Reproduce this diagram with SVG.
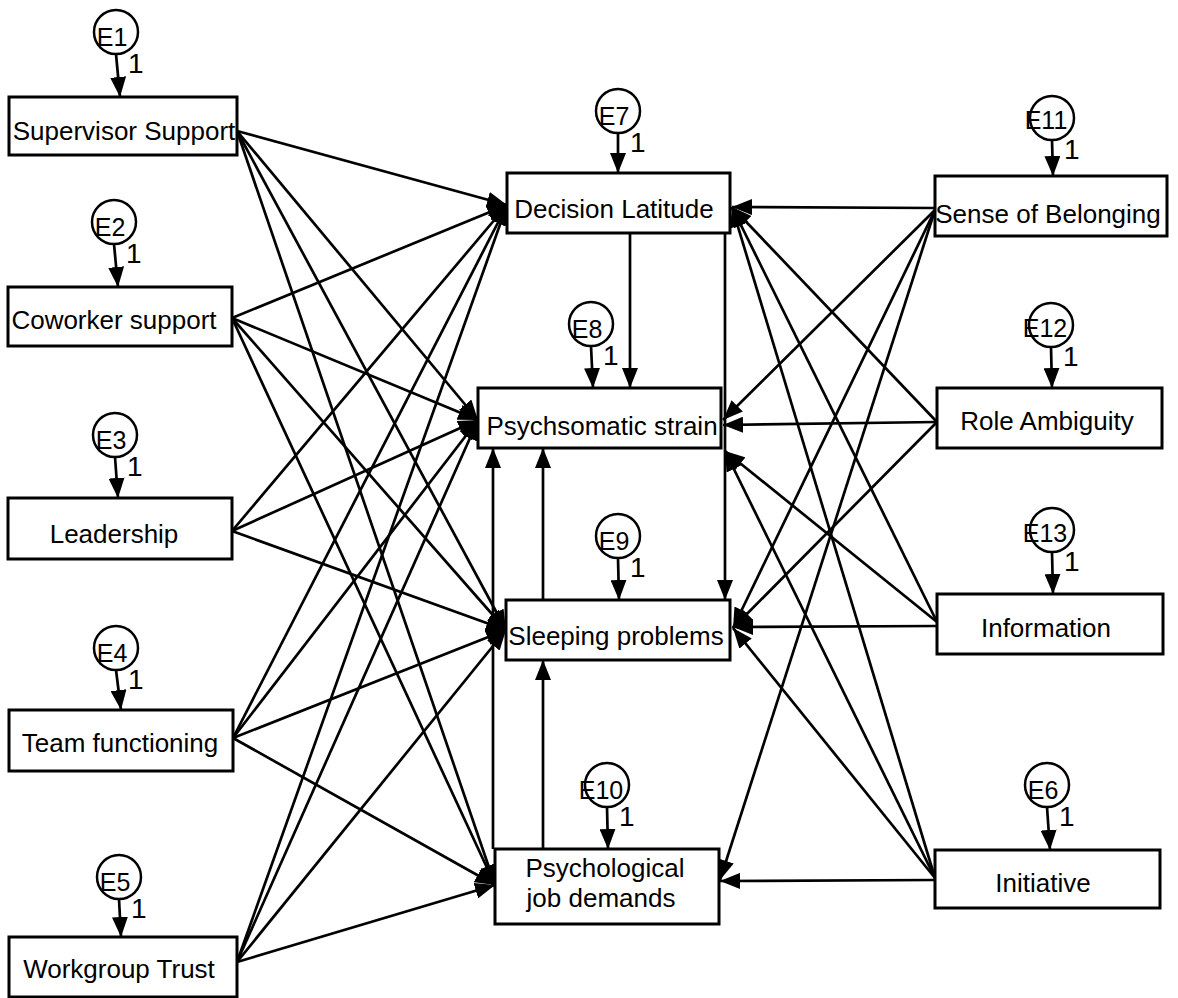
<svg xmlns="http://www.w3.org/2000/svg" width="1178" height="998" viewBox="0 0 1178 998">
  <style>
    .box { fill: #fff; stroke: #000; stroke-width: 3; }
    .err { fill: #fff; stroke: #000; stroke-width: 2.5; }
    .lbl { font-family: "Liberation Sans", Arial, sans-serif; font-size: 26px; fill: #000; text-anchor: middle; }
    .elbl { font-family: "Liberation Sans", Arial, sans-serif; font-size: 25px; fill: #000; text-anchor: middle; }
    .one { font-family: "Liberation Sans", Arial, sans-serif; font-size: 28px; fill: #000; }
    .edge { stroke: #000; stroke-width: 2.7; fill: none; marker-end: url(#ah); }
  </style>
  <defs>
    <marker id="ah" markerUnits="userSpaceOnUse" markerWidth="20" markerHeight="16" refX="20" refY="8" orient="auto" viewBox="0 0 20 16">
      <path d="M0,0 L20,8 L0,16 z" fill="#000"/>
    </marker>
  </defs>
  <rect width="1178" height="998" fill="#fff"/>

  <!-- paths between variables -->
  <g id="connectors">
    <!-- exogenous (left) to endogenous -->
    <line class="edge" x1="237" y1="131" x2="507" y2="205"/>
    <line class="edge" x1="237" y1="131" x2="478" y2="420"/>
    <line class="edge" x1="237" y1="131" x2="506" y2="630"/>
    <line class="edge" x1="237" y1="131" x2="495" y2="885"/>
    <line class="edge" x1="232" y1="318" x2="507" y2="205"/>
    <line class="edge" x1="232" y1="318" x2="478" y2="420"/>
    <line class="edge" x1="232" y1="318" x2="506" y2="630"/>
    <line class="edge" x1="232" y1="318" x2="495" y2="885"/>
    <line class="edge" x1="232" y1="531" x2="507" y2="205"/>
    <line class="edge" x1="232" y1="531" x2="478" y2="420"/>
    <line class="edge" x1="232" y1="531" x2="506" y2="630"/>
    <line class="edge" x1="233" y1="738" x2="507" y2="205"/>
    <line class="edge" x1="233" y1="738" x2="478" y2="420"/>
    <line class="edge" x1="233" y1="738" x2="506" y2="630"/>
    <line class="edge" x1="233" y1="738" x2="495" y2="885"/>
    <line class="edge" x1="237" y1="962" x2="507" y2="205"/>
    <line class="edge" x1="237" y1="962" x2="478" y2="420"/>
    <line class="edge" x1="237" y1="962" x2="506" y2="630"/>
    <line class="edge" x1="237" y1="962" x2="495" y2="885"/>
    <!-- exogenous (right) to endogenous -->
    <line class="edge" x1="935" y1="208" x2="732" y2="207"/>
    <line class="edge" x1="935" y1="210" x2="723" y2="420"/>
    <line class="edge" x1="935" y1="210" x2="733" y2="628"/>
    <line class="edge" x1="935" y1="210" x2="720" y2="880"/>
    <line class="edge" x1="937" y1="422" x2="732" y2="207"/>
    <line class="edge" x1="937" y1="422" x2="723" y2="425"/>
    <line class="edge" x1="937" y1="422" x2="733" y2="628"/>
    <line class="edge" x1="937" y1="622" x2="732" y2="207"/>
    <line class="edge" x1="937" y1="622" x2="725" y2="451"/>
    <line class="edge" x1="937" y1="626" x2="733" y2="627"/>
    <line class="edge" x1="935" y1="878" x2="732" y2="207"/>
    <line class="edge" x1="935" y1="878" x2="725" y2="451"/>
    <line class="edge" x1="935" y1="878" x2="733" y2="628"/>
    <line class="edge" x1="935" y1="880" x2="720" y2="881"/>
    <!-- among endogenous variables -->
    <line class="edge" x1="630" y1="233" x2="630" y2="388"/>
    <line class="edge" x1="725" y1="233" x2="725" y2="600"/>
    <line class="edge" x1="543" y1="600" x2="543" y2="448"/>
    <line class="edge" x1="493" y1="849" x2="493" y2="448"/>
    <line class="edge" x1="543" y1="849" x2="543" y2="660"/>
    <!-- error terms -->
    <line class="edge" x1="116" y1="54" x2="120" y2="97"/>
    <line class="edge" x1="114" y1="244" x2="118" y2="287"/>
    <line class="edge" x1="115" y1="457" x2="118" y2="498"/>
    <line class="edge" x1="116" y1="670" x2="121" y2="710"/>
    <line class="edge" x1="119" y1="899" x2="121" y2="937"/>
    <line class="edge" x1="618" y1="133" x2="618" y2="173"/>
    <line class="edge" x1="591" y1="346" x2="593" y2="388"/>
    <line class="edge" x1="618" y1="558" x2="619" y2="600"/>
    <line class="edge" x1="607" y1="807" x2="608" y2="849"/>
    <line class="edge" x1="1052" y1="140" x2="1053" y2="176"/>
    <line class="edge" x1="1051" y1="347" x2="1052" y2="388"/>
    <line class="edge" x1="1052" y1="552" x2="1053" y2="594"/>
    <line class="edge" x1="1047" y1="807" x2="1050" y2="850"/>
  </g>

  <!-- observed variables -->
  <g id="supervisor-support"><rect class="box" x="9" y="97" width="228" height="58"/><text class="lbl" x="124" y="140">Supervisor Support</text></g>
  <g id="coworker-support"><rect class="box" x="8" y="287" width="224" height="59"/><text class="lbl" x="114" y="329">Coworker support</text></g>
  <g id="leadership"><rect class="box" x="8" y="498" width="224" height="61"/><text class="lbl" x="114" y="543">Leadership</text></g>
  <g id="team-functioning"><rect class="box" x="9" y="710" width="224" height="61"/><text class="lbl" x="120" y="752">Team functioning</text></g>
  <g id="workgroup-trust"><rect class="box" x="9" y="937" width="228" height="60"/><text class="lbl" x="119" y="978">Workgroup Trust</text></g>

  <g id="decision-latitude"><rect class="box" x="507" y="173" width="223" height="60"/><text class="lbl" x="614" y="218">Decision Latitude</text></g>
  <g id="psychsomatic-strain"><rect class="box" x="478" y="388" width="243" height="60"/><text class="lbl" x="602" y="435">Psychsomatic strain</text></g>
  <g id="sleeping-problems"><rect class="box" x="506" y="600" width="224" height="60"/><text class="lbl" x="616" y="645">Sleeping problems</text></g>
  <g id="psychological-job-demands"><rect class="box" x="495" y="849" width="224" height="75"/><text class="lbl" x="605" y="877">Psychological</text><text class="lbl" x="601" y="907">job demands</text></g>

  <g id="sense-of-belonging"><rect class="box" x="935" y="176" width="232" height="60"/><text class="lbl" x="1048" y="223">Sense of Belonging</text></g>
  <g id="role-ambiguity"><rect class="box" x="937" y="388" width="225" height="60"/><text class="lbl" x="1047" y="430">Role Ambiguity</text></g>
  <g id="information"><rect class="box" x="937" y="594" width="226" height="60"/><text class="lbl" x="1046" y="637">Information</text></g>
  <g id="initiative"><rect class="box" x="935" y="850" width="225" height="58"/><text class="lbl" x="1043" y="892">Initiative</text></g>

  <!-- error terms -->
  <g id="e1"><circle class="err" cx="116" cy="32" r="22"/><text class="elbl" x="112" y="46">E1</text><text class="one" x="128" y="73">1</text></g>
  <g id="e2"><circle class="err" cx="114" cy="222" r="22"/><text class="elbl" x="110" y="236">E2</text><text class="one" x="126" y="263">1</text></g>
  <g id="e3"><circle class="err" cx="115" cy="435" r="22"/><text class="elbl" x="111" y="449">E3</text><text class="one" x="127" y="476">1</text></g>
  <g id="e4"><circle class="err" cx="116" cy="648" r="22"/><text class="elbl" x="112" y="662">E4</text><text class="one" x="128" y="689">1</text></g>
  <g id="e5"><circle class="err" cx="119" cy="877" r="22"/><text class="elbl" x="115" y="891">E5</text><text class="one" x="131" y="918">1</text></g>
  <g id="e7"><circle class="err" cx="618" cy="111" r="22"/><text class="elbl" x="614" y="125">E7</text><text class="one" x="630" y="152">1</text></g>
  <g id="e8"><circle class="err" cx="591" cy="324" r="22"/><text class="elbl" x="587" y="338">E8</text><text class="one" x="603" y="365">1</text></g>
  <g id="e9"><circle class="err" cx="618" cy="536" r="22"/><text class="elbl" x="614" y="550">E9</text><text class="one" x="630" y="577">1</text></g>
  <g id="e10"><circle class="err" cx="607" cy="785" r="22"/><text class="elbl" x="601" y="799">E10</text><text class="one" x="619" y="826">1</text></g>
  <g id="e11"><circle class="err" cx="1052" cy="118" r="22"/><text class="elbl" x="1046" y="129">E11</text><text class="one" x="1064" y="159">1</text></g>
  <g id="e12"><circle class="err" cx="1051" cy="325" r="22"/><text class="elbl" x="1045" y="337">E12</text><text class="one" x="1063" y="366">1</text></g>
  <g id="e13"><circle class="err" cx="1052" cy="530" r="22"/><text class="elbl" x="1045" y="542">E13</text><text class="one" x="1064" y="571">1</text></g>
  <g id="e6"><circle class="err" cx="1047" cy="785" r="22"/><text class="elbl" x="1043" y="799">E6</text><text class="one" x="1059" y="826">1</text></g>
</svg>
